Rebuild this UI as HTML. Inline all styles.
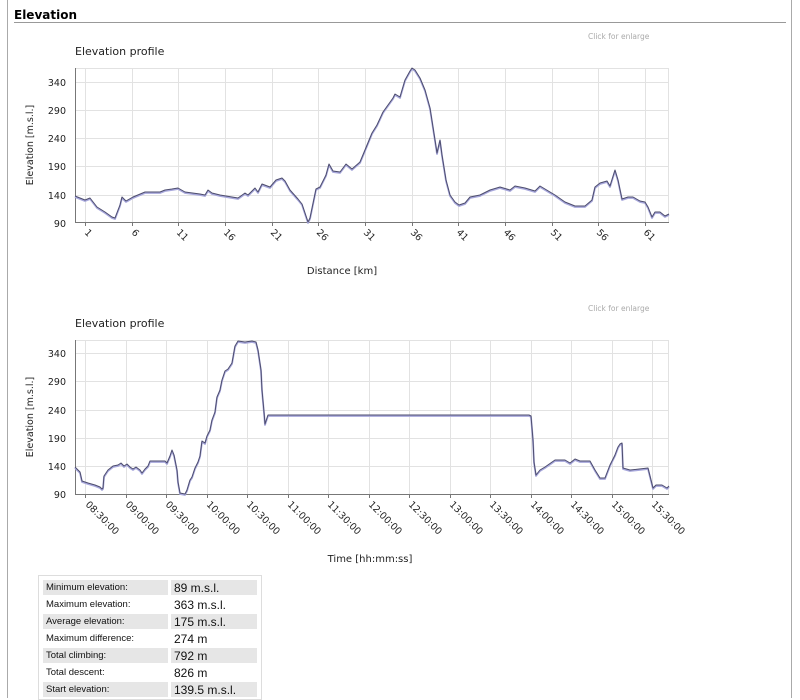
<!DOCTYPE html>
<html><head><meta charset="utf-8"><style>
body{margin:0;background:#fff;width:800px;height:698px;overflow:hidden;font-family:"DejaVu Sans","Liberation Sans",sans-serif;}
svg text{font-family:"DejaVu Sans","Liberation Sans",sans-serif;}
table{position:absolute;left:38px;top:575px;border:1px solid #ddd;border-collapse:separate;border-spacing:3px 2px;padding:2px 1px 0 1px;}
td{height:15px;padding:0 3px;font-family:"Liberation Sans",Arial,sans-serif;}
td.l{width:119px;font-size:9.5px;color:#111;}
td.v{width:80px;font-size:12px;color:#111;}
tr.g td{background:#e6e6e6;}
</style></head><body>
<svg width="800" height="698" style="position:absolute;left:0;top:0">
<line x1="7.5" y1="0" x2="7.5" y2="698" stroke="#aaa"/>
<line x1="791.5" y1="0" x2="791.5" y2="698" stroke="#aaa"/>
<text x="14" y="19" font-size="12" font-weight="bold" font-family="Liberation Sans,sans-serif">Elevation</text>
<line x1="14" y1="22.5" x2="786" y2="22.5" stroke="#999"/>
<text x="588" y="39" font-size="7.5" fill="#aaa">Click for enlarge</text>
<text x="588" y="311" font-size="7.5" fill="#aaa">Click for enlarge</text>

<!-- Chart 1 -->
<text x="75" y="55" font-size="11" fill="#222">Elevation profile</text>
<g stroke="#e2e2e2" stroke-width="1">
<line x1="75" y1="68.5" x2="669" y2="68.5"/>
<line x1="75" y1="82.5" x2="669" y2="82.5"/><line x1="75" y1="110.5" x2="669" y2="110.5"/><line x1="75" y1="138.5" x2="669" y2="138.5"/><line x1="75" y1="166.5" x2="669" y2="166.5"/><line x1="75" y1="195.5" x2="669" y2="195.5"/>
<line x1="85.5" y1="68" x2="85.5" y2="222"/><line x1="132.5" y1="68" x2="132.5" y2="222"/><line x1="178.5" y1="68" x2="178.5" y2="222"/><line x1="225.5" y1="68" x2="225.5" y2="222"/><line x1="272.5" y1="68" x2="272.5" y2="222"/><line x1="318.5" y1="68" x2="318.5" y2="222"/><line x1="365.5" y1="68" x2="365.5" y2="222"/><line x1="412.5" y1="68" x2="412.5" y2="222"/><line x1="458.5" y1="68" x2="458.5" y2="222"/><line x1="505.5" y1="68" x2="505.5" y2="222"/><line x1="552.5" y1="68" x2="552.5" y2="222"/><line x1="598.5" y1="68" x2="598.5" y2="222"/><line x1="645.5" y1="68" x2="645.5" y2="222"/><line x1="668.5" y1="68" x2="668.5" y2="222"/>
</g>
<line x1="75.5" y1="68" x2="75.5" y2="223" stroke="#777"/>
<line x1="75" y1="222.5" x2="669" y2="222.5" stroke="#777"/>
<g stroke="#777"><line x1="85.5" y1="222" x2="85.5" y2="226"/><line x1="132.5" y1="222" x2="132.5" y2="226"/><line x1="178.5" y1="222" x2="178.5" y2="226"/><line x1="225.5" y1="222" x2="225.5" y2="226"/><line x1="272.5" y1="222" x2="272.5" y2="226"/><line x1="318.5" y1="222" x2="318.5" y2="226"/><line x1="365.5" y1="222" x2="365.5" y2="226"/><line x1="412.5" y1="222" x2="412.5" y2="226"/><line x1="458.5" y1="222" x2="458.5" y2="226"/><line x1="505.5" y1="222" x2="505.5" y2="226"/><line x1="552.5" y1="222" x2="552.5" y2="226"/><line x1="598.5" y1="222" x2="598.5" y2="226"/><line x1="645.5" y1="222" x2="645.5" y2="226"/></g>
<g font-size="9.5" fill="#222" text-anchor="end">
<text x="66" y="86">340</text><text x="66" y="114">290</text><text x="66" y="142">240</text><text x="66" y="170">190</text><text x="66" y="199">140</text><text x="66" y="227">90</text>
</g>
<g font-size="9.5" fill="#222">
<text transform="translate(84,233) rotate(45)">1</text><text transform="translate(131,233) rotate(45)">6</text><text transform="translate(176,233) rotate(45)">11</text><text transform="translate(223,233) rotate(45)">16</text><text transform="translate(270,233) rotate(45)">21</text><text transform="translate(316,233) rotate(45)">26</text><text transform="translate(363,233) rotate(45)">31</text><text transform="translate(410,233) rotate(45)">36</text><text transform="translate(456,233) rotate(45)">41</text><text transform="translate(503,233) rotate(45)">46</text><text transform="translate(550,233) rotate(45)">51</text><text transform="translate(596,233) rotate(45)">56</text><text transform="translate(643,233) rotate(45)">61</text>
</g>
<text transform="translate(33,145) rotate(-90)" font-size="9.5" fill="#222" text-anchor="middle">Elevation [m.s.l.]</text>
<text x="342" y="274" font-size="10" fill="#222" text-anchor="middle">Distance [km]</text>
<g fill="none" stroke-linejoin="round">
<polyline transform="translate(0,1)" stroke="#a8a8dc" stroke-width="1.8" points="75,196 85,200 90,198 97,207 105,212 112,217 115,218 120,205 122,197 126,201 133,197 145,192 160,192 165,190 172,189 178,188 185,192 200,194 205,195 208,190 212,193 220,195 238,198 245,193 248,195 255,188 258,192 262,184 270,187 276,180 282,178 285,181 290,190 298,199 302,204 308,222 310,218 316,189 320,187 322,183 326,175 329,164 333,171 340,172 346,164 352,169 360,162 365,150 372,133 377,125 383,112 393,98 395,94 400,97 405,80 410,71 412,68 415,70 420,78 425,90 430,108 435,140 437,153 440,140 442,155 446,180 450,195 455,202 459,205 465,203 470,197 480,195 490,190 500,187 510,190 515,186 525,188 535,191 540,186 545,189 555,195 565,202 575,206 585,206 592,200 595,187 600,183 607,181 610,186 615,170 618,180 622,199 628,197 633,197 640,201 645,202 648,207 652,217 655,212 660,212 665,216 669,214"/>
<polyline stroke="#4e4e6e" stroke-width="1" points="75,196 85,200 90,198 97,207 105,212 112,217 115,218 120,205 122,197 126,201 133,197 145,192 160,192 165,190 172,189 178,188 185,192 200,194 205,195 208,190 212,193 220,195 238,198 245,193 248,195 255,188 258,192 262,184 270,187 276,180 282,178 285,181 290,190 298,199 302,204 308,222 310,218 316,189 320,187 322,183 326,175 329,164 333,171 340,172 346,164 352,169 360,162 365,150 372,133 377,125 383,112 393,98 395,94 400,97 405,80 410,71 412,68 415,70 420,78 425,90 430,108 435,140 437,153 440,140 442,155 446,180 450,195 455,202 459,205 465,203 470,197 480,195 490,190 500,187 510,190 515,186 525,188 535,191 540,186 545,189 555,195 565,202 575,206 585,206 592,200 595,187 600,183 607,181 610,186 615,170 618,180 622,199 628,197 633,197 640,201 645,202 648,207 652,217 655,212 660,212 665,216 669,214"/>
</g>

<!-- Chart 2 -->
<text x="75" y="327" font-size="11" fill="#222">Elevation profile</text>
<g stroke="#e2e2e2" stroke-width="1">
<line x1="75" y1="340.5" x2="669" y2="340.5"/>
<line x1="75" y1="353.5" x2="669" y2="353.5"/><line x1="75" y1="381.5" x2="669" y2="381.5"/><line x1="75" y1="410.5" x2="669" y2="410.5"/><line x1="75" y1="438.5" x2="669" y2="438.5"/><line x1="75" y1="466.5" x2="669" y2="466.5"/>
<line x1="85.5" y1="340" x2="85.5" y2="494"/><line x1="126.5" y1="340" x2="126.5" y2="494"/><line x1="166.5" y1="340" x2="166.5" y2="494"/><line x1="207.5" y1="340" x2="207.5" y2="494"/><line x1="247.5" y1="340" x2="247.5" y2="494"/><line x1="288.5" y1="340" x2="288.5" y2="494"/><line x1="328.5" y1="340" x2="328.5" y2="494"/><line x1="369.5" y1="340" x2="369.5" y2="494"/><line x1="409.5" y1="340" x2="409.5" y2="494"/><line x1="450.5" y1="340" x2="450.5" y2="494"/><line x1="490.5" y1="340" x2="490.5" y2="494"/><line x1="531.5" y1="340" x2="531.5" y2="494"/><line x1="571.5" y1="340" x2="571.5" y2="494"/><line x1="612.5" y1="340" x2="612.5" y2="494"/><line x1="652.5" y1="340" x2="652.5" y2="494"/><line x1="668.5" y1="340" x2="668.5" y2="494"/>
</g>
<line x1="75.5" y1="340" x2="75.5" y2="495" stroke="#777"/>
<line x1="75" y1="494.5" x2="669" y2="494.5" stroke="#777"/>
<g stroke="#777"><line x1="85.5" y1="494" x2="85.5" y2="498"/><line x1="126.5" y1="494" x2="126.5" y2="498"/><line x1="166.5" y1="494" x2="166.5" y2="498"/><line x1="207.5" y1="494" x2="207.5" y2="498"/><line x1="247.5" y1="494" x2="247.5" y2="498"/><line x1="288.5" y1="494" x2="288.5" y2="498"/><line x1="328.5" y1="494" x2="328.5" y2="498"/><line x1="369.5" y1="494" x2="369.5" y2="498"/><line x1="409.5" y1="494" x2="409.5" y2="498"/><line x1="450.5" y1="494" x2="450.5" y2="498"/><line x1="490.5" y1="494" x2="490.5" y2="498"/><line x1="531.5" y1="494" x2="531.5" y2="498"/><line x1="571.5" y1="494" x2="571.5" y2="498"/><line x1="612.5" y1="494" x2="612.5" y2="498"/><line x1="652.5" y1="494" x2="652.5" y2="498"/></g>
<g font-size="9.5" fill="#222" text-anchor="end">
<text x="66" y="357">340</text><text x="66" y="385">290</text><text x="66" y="414">240</text><text x="66" y="442">190</text><text x="66" y="470">140</text><text x="66" y="498">90</text>
</g>
<g font-size="9.5" fill="#222">
<text transform="translate(85,505) rotate(45)">08:30:00</text><text transform="translate(125,505) rotate(45)">09:00:00</text><text transform="translate(165,505) rotate(45)">09:30:00</text><text transform="translate(206,505) rotate(45)">10:00:00</text><text transform="translate(246,505) rotate(45)">10:30:00</text><text transform="translate(287,505) rotate(45)">11:00:00</text><text transform="translate(327,505) rotate(45)">11:30:00</text><text transform="translate(368,505) rotate(45)">12:00:00</text><text transform="translate(408,505) rotate(45)">12:30:00</text><text transform="translate(449,505) rotate(45)">13:00:00</text><text transform="translate(489,505) rotate(45)">13:30:00</text><text transform="translate(530,505) rotate(45)">14:00:00</text><text transform="translate(570,505) rotate(45)">14:30:00</text><text transform="translate(611,505) rotate(45)">15:00:00</text><text transform="translate(651,505) rotate(45)">15:30:00</text>
</g>
<text transform="translate(33,417) rotate(-90)" font-size="9.5" fill="#222" text-anchor="middle">Elevation [m.s.l.]</text>
<text x="370" y="562" font-size="10" fill="#222" text-anchor="middle">Time  [hh:mm:ss]</text>
<g fill="none" stroke-linejoin="round">
<polyline transform="translate(0,1)" stroke="#a8a8dc" stroke-width="1.8" points="75,467 80,472 82,481 88,483 95,485 100,487 102,489 103,488 104,476 108,470 113,466 118,465 121,463 124,466 127,464 130,467 133,469 136,467 140,470 142,473 145,469 148,466 150,461 165,461 167,463 170,456 172,450 174,455 177,470 178,482 180,493 185,494 187,490 190,480 192,477 195,468 198,462 200,456 202,441 205,443 207,436 210,430 212,420 215,412 217,397 220,390 222,380 225,371 228,369 232,363 235,346 238,341 245,342 252,341 256,342 258,350 261,370 262,390 264,412 265,424 267,418 268,415 529,415 531,416 533,440 534,462 536,475 540,470 545,467 555,460 565,460 570,463 575,459 580,461 590,461 595,470 600,478 605,478 610,465 615,455 618,447 620,444 622,443 623,468 630,470 648,468 650,476 653,488 656,485 662,485 667,488 669,486"/>
<polyline stroke="#4e4e6e" stroke-width="1" points="75,467 80,472 82,481 88,483 95,485 100,487 102,489 103,488 104,476 108,470 113,466 118,465 121,463 124,466 127,464 130,467 133,469 136,467 140,470 142,473 145,469 148,466 150,461 165,461 167,463 170,456 172,450 174,455 177,470 178,482 180,493 185,494 187,490 190,480 192,477 195,468 198,462 200,456 202,441 205,443 207,436 210,430 212,420 215,412 217,397 220,390 222,380 225,371 228,369 232,363 235,346 238,341 245,342 252,341 256,342 258,350 261,370 262,390 264,412 265,424 267,418 268,415 529,415 531,416 533,440 534,462 536,475 540,470 545,467 555,460 565,460 570,463 575,459 580,461 590,461 595,470 600,478 605,478 610,465 615,455 618,447 620,444 622,443 623,468 630,470 648,468 650,476 653,488 656,485 662,485 667,488 669,486"/>
</g>
</svg>
<table>
<tr class="g"><td class="l">Minimum elevation:</td><td class="v">89 m.s.l.</td></tr>
<tr><td class="l">Maximum elevation:</td><td class="v">363 m.s.l.</td></tr>
<tr class="g"><td class="l">Average elevation:</td><td class="v">175 m.s.l.</td></tr>
<tr><td class="l">Maximum difference:</td><td class="v">274 m</td></tr>
<tr class="g"><td class="l">Total climbing:</td><td class="v">792 m</td></tr>
<tr><td class="l">Total descent:</td><td class="v">826 m</td></tr>
<tr class="g"><td class="l">Start elevation:</td><td class="v">139.5 m.s.l.</td></tr>
</table>
</body></html>
